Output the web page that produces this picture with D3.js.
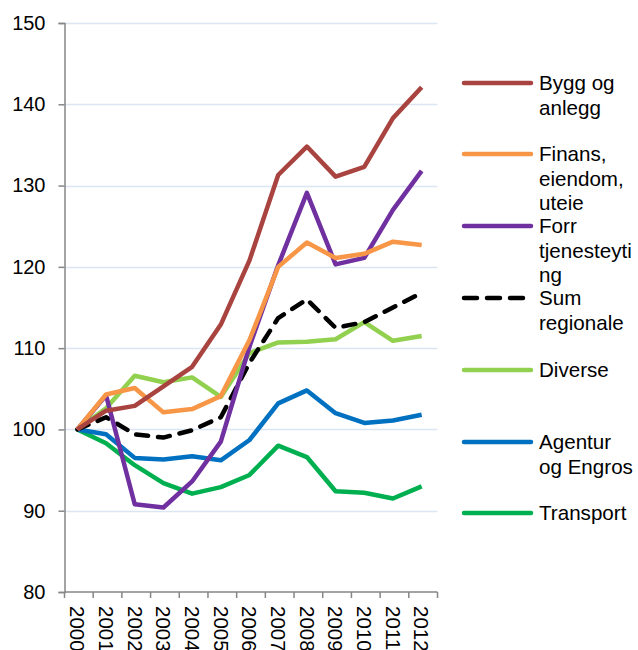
<!DOCTYPE html>
<html>
<head>
<meta charset="utf-8">
<script src="https://cdn.jsdelivr.net/npm/d3@7"></script>
<style>
  body { margin: 0; background: #fff; }
  text { font-family: "Liberation Sans", Arial, sans-serif; fill: #000; }
</style>
</head>
<body>
<svg class="chart" width="638" height="650"></svg>
<script>
var years = ["2000","2001","2002","2003","2004","2005","2006","2007","2008","2009","2010","2011","2012"];
var yTicks = [80, 90, 100, 110, 120, 130, 140, 150];

var bygg      = [100, 102.3, 102.9, 105.3, 107.7, 112.9, 120.8, 131.3, 134.8, 131.1, 132.3, 138.3, 142.1];
var finans    = [100, 104.3, 105.1, 102.1, 102.5, 104.1, 111.0, 120.0, 123.0, 121.1, 121.6, 123.1, 122.7];
var forr      = [100, 104.2, 90.8, 90.4, 93.6, 98.5, 110.2, 120.2, 129.1, 120.3, 121.1, 127.0, 131.8];
var sum       = [100, 101.5, 99.4, 99.0, 99.9, 101.5, 108.2, 113.7, 116.0, 112.5, 113.2, 115.0, 116.8];
var diverse   = [100, 102.6, 106.6, 105.8, 106.4, 104.0, 109.4, 110.7, 110.8, 111.1, 113.2, 110.9, 111.5];
var agentur   = [100, 99.4, 96.5, 96.3, 96.7, 96.2, 98.7, 103.2, 104.8, 102.0, 100.8, 101.1, 101.8];
var transport = [100, 98.3, 95.6, 93.4, 92.1, 92.9, 94.4, 98.0, 96.6, 92.4, 92.2, 91.5, 93.0];

var seriesNames  = ["Bygg og anlegg", "Finans, eiendom, uteie", "Forr tjenesteyting", "Sum regionale", "Diverse", "Agentur og Engros", "Transport"];
var legendLines  = [["Bygg og", "anlegg"], ["Finans,", "eiendom,", "uteie"], ["Forr", "tjenesteyti", "ng"], ["Sum", "regionale"], ["Diverse"], ["Agentur", "og Engros"], ["Transport"]];
var seriesColors = ["#A8433F", "#F79646", "#7030A0", "#000000", "#92D050", "#0070C0", "#00B050"];
var seriesData   = [bygg, finans, forr, sum, diverse, agentur, transport];

(function(){
    var svg = d3.select(".chart");

    var plotLeft = 64.5, plotRight = 437.5, plotTop = 23, plotBottom = 592;

    var x = d3.scaleBand().domain(years).range([plotLeft, plotRight]).padding(0);
    var y = d3.scaleLinear().domain([80, 150]).range([plotBottom, plotTop]);
    function px(i){ return x(years[i]) + x.bandwidth() / 2 - 1.5; }

    // gridlines
    svg.append("g").selectAll("line")
        .data(yTicks.slice(1))
        .enter().append("line")
        .attr("x1", plotLeft).attr("x2", plotRight)
        .attr("y1", function(d){ return Math.round(y(d)) + 0.5; })
        .attr("y2", function(d){ return Math.round(y(d)) + 0.5; })
        .attr("stroke", "#DCE6F2")
        .attr("stroke-width", 1.5);

    // y axis
    var yAxis = svg.append("g")
        .attr("transform", "translate(" + plotLeft + ",0)")
        .call(d3.axisLeft(y).tickValues(yTicks).tickSize(6).tickPadding(13).tickFormat(d3.format("d")));
    yAxis.select(".domain").attr("stroke", "#868686").attr("stroke-width", 1.5);
    yAxis.selectAll(".tick line").attr("stroke", "#868686").attr("stroke-width", 1.5);
    yAxis.selectAll("text")
        .attr("font-size", "20px")
        .attr("font-family", "Liberation Sans, Arial, sans-serif")
        .attr("fill", "#000");

    // x axis
    var xAxis = svg.append("g")
        .attr("transform", "translate(0," + plotBottom + ")");
    xAxis.append("line")
        .attr("x1", plotLeft).attr("x2", plotRight)
        .attr("y1", 0).attr("y2", 0)
        .attr("stroke", "#868686").attr("stroke-width", 1.5);
    var xTickPos = years.map(function(d){ return x(d); }).concat([plotRight]);
    xAxis.selectAll(".xt")
        .data(xTickPos)
        .enter().append("line")
        .attr("class", "xt")
        .attr("x1", function(d){ return d; }).attr("x2", function(d){ return d; })
        .attr("y1", 0).attr("y2", 6)
        .attr("stroke", "#868686").attr("stroke-width", 1.5);
    xAxis.selectAll(".xl")
        .data(years)
        .enter().append("text")
        .attr("class", "xl")
        .attr("transform", function(d){ return "translate(" + (x(d) + x.bandwidth() / 2 - 1.5) + ",14) rotate(90)"; })
        .attr("dy", "0.35em")
        .attr("font-size", "20.5px")
        .text(function(d){ return d; });

    // lines
    var line = d3.line()
        .x(function(d, i){ return px(i); })
        .y(function(d){ return y(d); });

    var drawOrder = [6, 5, 4, 3, 2, 1, 0];
    drawOrder.forEach(function(k){
        var p = svg.append("path")
            .datum(seriesData[k])
            .attr("d", line)
            .attr("fill", "none")
            .attr("stroke", seriesColors[k])
            .attr("stroke-width", 4.5)
            .attr("stroke-linejoin", "round");
        if (k === 3) {
            p.attr("stroke-dasharray", "12,10").attr("stroke-linecap", "round");
        }
    });

    // legend
    var legendY = [83, 154, 226, 298, 370, 442, 513];
    var legend = svg.append("g");
    seriesNames.forEach(function(name, k){
        var g = legend.append("g").attr("transform", "translate(0," + legendY[k] + ")");
        var l = g.append("line")
            .attr("x1", 464).attr("x2", 531)
            .attr("y1", 0).attr("y2", 0)
            .attr("stroke", seriesColors[k])
            .attr("stroke-width", 4.5)
            .attr("stroke-linecap", "round");
        if (k === 3) l.attr("stroke-dasharray", "13,10");
        var t = g.append("text")
            .attr("x", 539)
            .attr("y", 0)
            .attr("font-size", "20.6px");
        legendLines[k].forEach(function(s, j){
            t.append("tspan")
                .attr("x", 539)
                .attr("dy", j === 0 ? "0.35em" : "24.5")
                .text(s);
        });
    });
})();
</script>
</body>
</html>
